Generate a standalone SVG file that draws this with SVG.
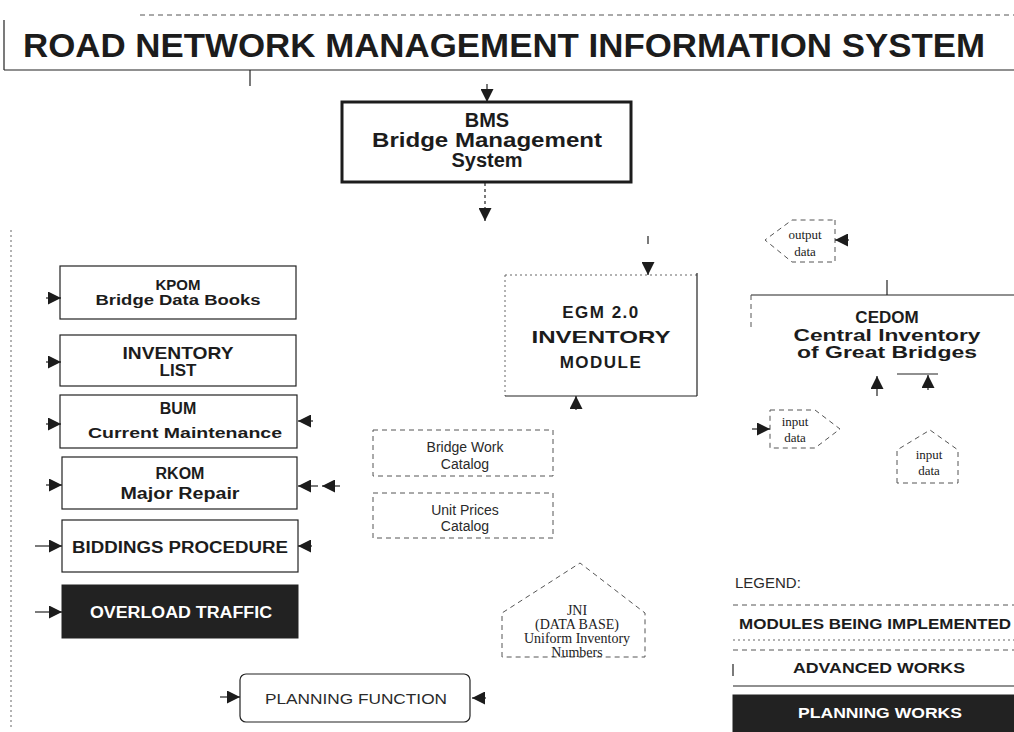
<svg xmlns="http://www.w3.org/2000/svg" width="1014" height="732" viewBox="0 0 1014 732">
<defs>
<style>
.b{font-family:"Liberation Sans",Arial,sans-serif;font-weight:bold;fill:#1c1c1c;text-anchor:middle}
.w{fill:#fff}
.l{font-family:"Liberation Sans",Arial,sans-serif;font-weight:normal;fill:#2a2a2a;text-anchor:middle}
.s{font-family:"Liberation Serif","Times New Roman",serif;fill:#222;text-anchor:middle}
.st{text-anchor:start}
.box{fill:#fff;stroke:#222;stroke-width:1.2}
.thick{fill:#fff;stroke:#1c1c1c;stroke-width:3}
.dk{fill:#222;stroke:#222}
.dash{fill:none;stroke:#555;stroke-width:1;stroke-dasharray:5 4}
.dot{fill:none;stroke:#666;stroke-width:1;stroke-dasharray:2 3}
.sol{fill:none;stroke:#222;stroke-width:1.2}
.con{fill:none;stroke:#222;stroke-width:1.2;marker-end:url(#ah)}
</style>
<marker id="ah" viewBox="0 0 10 10" refX="10" refY="5" markerWidth="13" markerHeight="13" markerUnits="userSpaceOnUse" orient="auto">
<path d="M0,0 L10,5 L0,10 z" fill="#1c1c1c"/>
</marker>
</defs>
<rect width="1014" height="732" fill="#fff"/>

<g id="title">
<line x1="140" y1="15" x2="1014" y2="15" class="dash" stroke-dasharray="22 18"/>
<line x1="4" y1="20" x2="4" y2="70" class="sol"/>
<line x1="4" y1="70" x2="1014" y2="70" class="sol" stroke-width="1.6"/>
<text x="504" y="57" class="b" font-size="33" textLength="962" lengthAdjust="spacingAndGlyphs">ROAD NETWORK MANAGEMENT INFORMATION SYSTEM</text>
</g>

<g id="bms">
<rect x="342" y="102" width="289" height="80" class="thick"/>
<text x="487" y="127" class="b" font-size="20">BMS</text>
<text x="487" y="147" class="b" font-size="20" textLength="230" lengthAdjust="spacingAndGlyphs">Bridge Management</text>
<text x="487" y="167" class="b" font-size="20">System</text>
</g>

<g id="kpom">
<rect x="60" y="266" width="236" height="53" class="box"/>
<text x="178" y="290" class="b" font-size="15">KPOM</text>
<text x="178" y="305" class="b" font-size="14" textLength="165" lengthAdjust="spacingAndGlyphs">Bridge Data Books</text>
</g>

<g id="inventory-list">
<rect x="60" y="335" width="236" height="51" class="box"/>
<text x="178" y="359" class="b" font-size="17" textLength="111" lengthAdjust="spacingAndGlyphs">INVENTORY</text>
<text x="178" y="376" class="b" font-size="17">LIST</text>
</g>

<g id="bum">
<rect x="60" y="395" width="237" height="53" class="box"/>
<text x="178" y="414" class="b" font-size="16">BUM</text>
<text x="185" y="438" class="b" font-size="15" textLength="194" lengthAdjust="spacingAndGlyphs">Current Maintenance</text>
</g>

<g id="rkom">
<rect x="62" y="457" width="235" height="52" class="box"/>
<text x="180" y="479" class="b" font-size="16">RKOM</text>
<text x="180" y="499" class="b" font-size="16" textLength="119" lengthAdjust="spacingAndGlyphs">Major Repair</text>
</g>

<g id="biddings">
<rect x="62" y="520" width="236" height="52" class="box"/>
<text x="180" y="553" class="b" font-size="16" textLength="216" lengthAdjust="spacingAndGlyphs">BIDDINGS PROCEDURE</text>
</g>

<g id="overload">
<rect x="62" y="585" width="236" height="53" class="dk"/>
<text x="181" y="618" class="b w" font-size="16" textLength="182" lengthAdjust="spacingAndGlyphs">OVERLOAD TRAFFIC</text>
</g>

<g id="egm">
<rect x="505" y="275" width="192" height="121" fill="#fff" stroke="none"/>
<line x1="505" y1="275" x2="697" y2="275" class="dot"/>
<line x1="505" y1="275" x2="505" y2="396" class="dot"/>
<line x1="505" y1="396" x2="697" y2="396" class="sol"/>
<line x1="697" y1="273" x2="697" y2="396" class="sol"/>
<text x="601" y="318" class="b" font-size="17" letter-spacing="1.5">EGM 2.0</text>
<text x="601" y="343" class="b" font-size="17" textLength="139" lengthAdjust="spacingAndGlyphs">INVENTORY</text>
<text x="601" y="368" class="b" font-size="17" letter-spacing="1.5">MODULE</text>
</g>

<g id="bridge-work-catalog">
<rect x="373" y="430" width="180" height="46" class="dash"/>
<text x="465" y="452" class="l" font-size="14">Bridge Work</text>
<text x="465" y="469" class="l" font-size="14">Catalog</text>
</g>

<g id="unit-prices-catalog">
<rect x="373" y="493" width="180" height="45" class="dash"/>
<text x="465" y="515" class="l" font-size="14">Unit Prices</text>
<text x="465" y="531" class="l" font-size="14">Catalog</text>
</g>

<g id="cedom">
<line x1="751" y1="295" x2="1014" y2="295" class="sol"/>
<line x1="751" y1="295" x2="751" y2="330" class="dash"/>
<text x="887" y="323" class="b" font-size="17">CEDOM</text>
<text x="887" y="341" class="b" font-size="17" textLength="187" lengthAdjust="spacingAndGlyphs">Central Inventory</text>
<text x="887" y="358" class="b" font-size="17" textLength="180" lengthAdjust="spacingAndGlyphs">of Great Bridges</text>
</g>

<g id="output-data">
<path d="M835,220 L835,262 L792,262 L765,240 L792,220 Z" class="dash"/>
<text x="805" y="239" class="s" font-size="13">output</text>
<text x="805" y="256" class="s" font-size="13">data</text>
</g>

<g id="input-data-1">
<path d="M770,410 L815,410 L840,429 L815,448 L770,448 Z" class="dash"/>
<text x="795" y="426" class="s" font-size="13">input</text>
<text x="795" y="442" class="s" font-size="13">data</text>
</g>

<g id="input-data-2">
<path d="M897,483 L897,450 L930,430 L958,450 L958,483 Z" class="dash"/>
<text x="929" y="459" class="s" font-size="13">input</text>
<text x="929" y="475" class="s" font-size="13">data</text>
</g>

<g id="jni">
<path d="M502,657 L502,613 L580,563 L645,613 L645,657 Z" class="dash"/>
<text x="577" y="615" class="s" font-size="14">JNI</text>
<text x="577" y="629" class="s" font-size="14">(DATA BASE)</text>
<text x="577" y="643" class="s" font-size="14">Uniform Inventory</text>
<text x="577" y="657" class="s" font-size="14">Numbers</text>
</g>

<g id="planning-function">
<rect x="240" y="674" width="230" height="48" rx="6" class="box" stroke="#555"/>
<text x="356" y="704" class="l" font-size="15" textLength="182" lengthAdjust="spacingAndGlyphs">PLANNING FUNCTION</text>
</g>

<g id="legend">
<text x="735" y="588" class="l st" font-size="15">LEGEND:</text>
<line x1="733" y1="605" x2="1014" y2="605" class="dash" stroke-dasharray="30 12"/>
<text x="739" y="629" class="b st" font-size="14" textLength="272" lengthAdjust="spacingAndGlyphs">MODULES BEING IMPLEMENTED</text>
<line x1="733" y1="640" x2="1014" y2="640" class="dot"/>
<line x1="733" y1="650" x2="1014" y2="650" class="dash" stroke-dasharray="40 10"/>
<line x1="733" y1="664" x2="733" y2="676" class="sol"/>
<text x="879" y="673" class="b" font-size="15" textLength="172" lengthAdjust="spacingAndGlyphs">ADVANCED WORKS</text>
<line x1="733" y1="686" x2="1014" y2="686" class="sol"/>
<rect x="733" y="695" width="281" height="37" class="dk"/>
<text x="880" y="718" class="b w" font-size="15" textLength="164" lengthAdjust="spacingAndGlyphs">PLANNING WORKS</text>
</g>

<g id="connectors">
<line x1="250" y1="70" x2="250" y2="86" class="sol" stroke-width="0.8"/>
<line x1="487" y1="84" x2="487" y2="102" class="con"/>
<line x1="485" y1="183" x2="485" y2="221" class="con" stroke-dasharray="3 3"/>
<line x1="11" y1="230" x2="11" y2="730" class="dot"/>
<line x1="46" y1="298" x2="61" y2="298" class="con"/>
<line x1="46" y1="362" x2="61" y2="362" class="con"/>
<line x1="46" y1="424" x2="61" y2="424" class="con"/>
<line x1="313" y1="421" x2="298" y2="421" class="con"/>
<line x1="46" y1="485" x2="62" y2="485" class="con"/>
<line x1="318" y1="486" x2="298" y2="486" class="con"/>
<line x1="340" y1="486" x2="322" y2="486" class="con"/>
<line x1="35" y1="546" x2="62" y2="546" class="con"/>
<line x1="312" y1="546" x2="298" y2="546" class="con"/>
<line x1="35" y1="612" x2="62" y2="612" class="con"/>
<line x1="648" y1="236" x2="648" y2="244" class="sol"/>
<line x1="648" y1="262" x2="648" y2="275" class="con"/>
<line x1="576" y1="410" x2="576" y2="396" class="con"/>
<line x1="887" y1="280" x2="887" y2="295" class="sol"/>
<line x1="877" y1="396" x2="877" y2="376" class="con"/>
<line x1="897" y1="374" x2="938" y2="374" class="sol"/>
<line x1="928" y1="390" x2="928" y2="375" class="con"/>
<line x1="849" y1="240" x2="835" y2="240" class="con"/>
<line x1="752" y1="429" x2="770" y2="429" class="con"/>
<line x1="220" y1="697" x2="240" y2="697" class="con"/>
<line x1="486" y1="698" x2="472" y2="698" class="con"/>
</g>
</svg>
